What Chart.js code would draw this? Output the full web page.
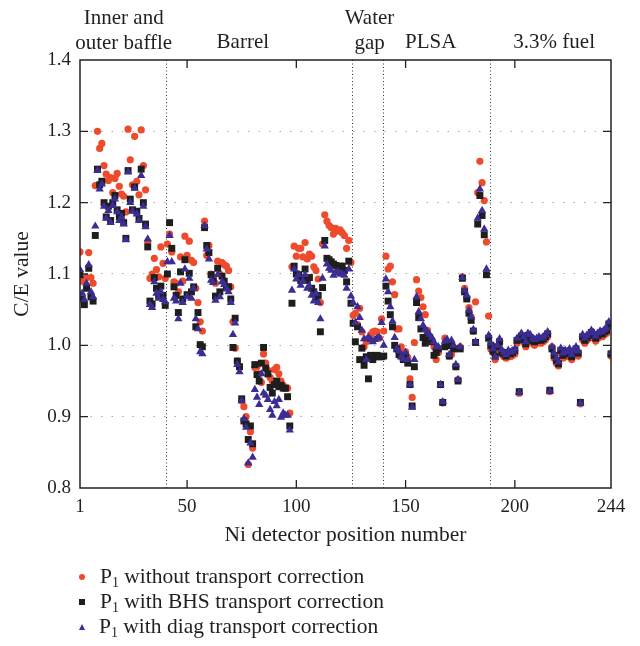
<!DOCTYPE html>
<html>
<head>
<meta charset="utf-8">
<title>C/E value by Ni detector position</title>
<script src="https://cdn.jsdelivr.net/npm/chart.js@4/dist/chart.umd.min.js"></script>
<style>
  body { margin: 0; background: #fff; }
  #wrap { position: relative; width: 640px; height: 646px; }
  #legend {
    position: absolute; left: 78px; top: 564px;
    font: 21.5px "Liberation Serif", "DejaVu Serif", serif; color: #231f20;
  }
  #legend .row { height: 25px; display: flex; align-items: center; white-space: nowrap; }
  #legend .mk { width: 6px; height: 6px; margin: 0 15px 0 1px; flex: none; }
  #legend .dot { background: #ee4a2c; border-radius: 50%; }
  #legend .sq { background: #1e1e1e; }
  #legend .tri { width: 0; height: 0; border-left: 3.5px solid transparent; border-right: 3.5px solid transparent; border-bottom: 6px solid #3a2d93; margin-right: 14px; }
  #legend sub { font-size: 14px; position: relative; top: 4px; vertical-align: baseline; line-height: 0; }
</style>
</head>
<body>
<div id="wrap">
  <canvas id="ceChart" width="640" height="646"></canvas>
  <div id="legend">
    <div class="row"><span class="mk dot"></span><span>P<sub>1</sub>&nbsp;without transport correction</span></div>
    <div class="row"><span class="mk sq"></span><span>P<sub>1</sub>&nbsp;with BHS transport correction</span></div>
    <div class="row"><span class="mk tri"></span><span>P<sub>1</sub>&nbsp;with diag transport correction</span></div>
  </div>
</div>
<script>
// C/E per Ni detector position (1..244), three transport treatments
const p1NoCorr = [
  1.131, 1.090, 1.090, 1.095, 1.130, 1.095, 1.087, 1.224, 1.300, 1.276,
  1.283, 1.252, 1.240, 1.231, 1.235, 1.214, 1.234, 1.241, 1.223, 1.212,
  1.209, 1.187, 1.303, 1.260, 1.225, 1.293, 1.230, 1.211, 1.302, 1.252,
  1.218, 1.145, 1.094, 1.100, 1.122, 1.106, 1.096, 1.138, 1.115, 1.094,
  1.142, 1.156, 1.131, 1.089, 1.087, 1.075, 1.124, 1.090, 1.153, 1.126,
  1.146, 1.119, 1.116, 1.080, 1.060, 1.033, 1.020, 1.174, 1.126, 1.140,
  1.100, 1.095, 1.087, 1.118, 1.100, 1.116, 1.113, 1.111, 1.105, 1.082,
  1.033, 0.996, 0.978, 0.970, 0.922, 0.914, 0.900, 0.833, 0.879, 0.856,
  0.969, 0.970, 0.960, 0.948, 0.988, 0.975, 0.965, 0.955, 0.950, 0.966,
  0.969, 0.960, 0.950, 0.944, 0.940, 0.940, 0.905, 1.110, 1.139, 1.125,
  1.136, 1.136, 1.124, 1.144, 1.121, 1.128, 1.125, 1.110, 1.105, 1.093,
  1.060, 1.142, 1.183, 1.174, 1.168, 1.165, 1.156, 1.164, 1.160, 1.162,
  1.158, 1.154, 1.136, 1.147, 1.116, 1.042, 1.045, 1.029, 1.052, 1.019,
  0.998, 1.005, 1.010, 1.015, 1.019, 1.020, 1.019, 1.010, 1.037, 1.020,
  1.125, 1.107, 1.111, 1.089, 1.071, 1.023, 1.023, 0.998, 0.990, 0.991,
  0.983, 0.953, 0.927, 1.004, 1.092, 1.076, 1.067, 1.054, 1.043, 1.021,
  1.010, 1.005, 0.998, 0.980, 0.990, 0.945, 0.919, 1.010, 1.000, 0.985,
  0.987, 0.995, 0.970, 0.952, 0.998, 1.096, 1.080, 1.066, 1.053, 1.040,
  1.020, 1.061, 1.214, 1.258, 1.228, 1.203, 1.145, 1.041, 0.995, 0.990,
  0.980, 0.995, 1.003, 0.987, 0.984, 0.982, 0.986, 0.984, 0.986, 0.988,
  1.003, 0.933, 1.010, 1.005, 0.998, 1.010, 1.007, 1.003, 1.000, 1.003,
  1.004, 1.003, 1.005, 1.008, 1.012, 0.935, 0.998, 0.982, 0.975, 0.971,
  0.989, 0.982, 0.986, 0.984, 0.988, 0.980, 0.986, 0.991, 0.985, 0.918,
  1.008, 1.003, 1.007, 1.010, 1.014, 1.011, 1.006, 1.010, 1.013, 1.012,
  1.015, 1.017, 1.026, 0.985
];

const p1Bhs = [
  1.099, 1.065, 1.057, 1.080, 1.108, 1.068, 1.062, 1.154, 1.247, 1.225,
  1.230, 1.200, 1.180, 1.195, 1.175, 1.200, 1.210, 1.190, 1.180, 1.185,
  1.172, 1.150, 1.245, 1.205, 1.190, 1.222, 1.188, 1.178, 1.247, 1.200,
  1.170, 1.138, 1.062, 1.058, 1.095, 1.080, 1.070, 1.083, 1.070, 1.056,
  1.100, 1.172, 1.136, 1.082, 1.070, 1.046, 1.103, 1.065, 1.120, 1.071,
  1.101, 1.075, 1.082, 1.026, 1.046, 1.001, 0.998, 1.165, 1.140, 1.130,
  1.099, 1.090, 1.069, 1.108, 1.075, 1.097, 1.090, 1.082, 1.082, 1.065,
  0.997, 1.038, 0.978, 0.970, 0.925, 0.894, 0.890, 0.868, 0.887, 0.862,
  0.973, 0.959, 0.950, 0.975, 0.997, 0.968, 0.960, 0.941, 0.933, 0.945,
  0.950, 0.942, 0.944, 0.940, 0.940, 0.928, 0.887, 1.059, 1.111, 1.100,
  1.099, 1.091, 1.095, 1.107, 1.091, 1.095, 1.080, 1.075, 1.067, 1.070,
  1.019, 1.081, 1.147, 1.122, 1.120, 1.117, 1.114, 1.112, 1.110, 1.111,
  1.111, 1.105, 1.089, 1.118, 1.059, 1.031, 1.005, 1.026, 0.980, 0.996,
  0.972, 0.984, 0.953, 0.986, 0.980, 0.984, 0.986, 0.984, 0.984, 0.985,
  1.083, 1.062, 1.043, 1.026, 1.000, 0.995, 0.987, 0.985, 0.980, 0.985,
  0.975, 0.945, 0.915, 0.970, 1.060, 1.039, 1.023, 1.011, 1.003, 1.010,
  1.011, 1.005, 0.986, 0.990, 0.995, 0.945, 0.920, 0.998, 1.000, 0.985,
  1.000, 0.995, 0.970, 0.950, 0.995, 1.094, 1.075, 1.065, 1.045, 1.035,
  1.020, 1.004, 1.170, 1.210, 1.182, 1.155, 1.099, 1.010, 1.000, 0.992,
  0.985, 0.998, 1.005, 0.990, 0.988, 0.985, 0.990, 0.988, 0.990, 0.993,
  1.007, 0.935, 1.013, 1.008, 1.002, 1.014, 1.011, 1.007, 1.005, 1.007,
  1.008, 1.007, 1.009, 1.012, 1.016, 0.937, 0.995, 0.986, 0.979, 0.974,
  0.993, 0.986, 0.990, 0.988, 0.992, 0.984, 0.990, 0.995, 0.989, 0.920,
  1.012, 1.007, 1.011, 1.014, 1.018, 1.015, 1.010, 1.014, 1.017, 1.016,
  1.019, 1.021, 1.030, 0.988
];

const p1Diag = [
  1.106, 1.073, 1.064, 1.087, 1.113, 1.075, 1.068, 1.167, 1.245, 1.219,
  1.226, 1.195, 1.178, 1.189, 1.172, 1.196, 1.205, 1.187, 1.175, 1.180,
  1.170, 1.148, 1.243, 1.200, 1.188, 1.220, 1.184, 1.175, 1.238, 1.195,
  1.166, 1.149, 1.057, 1.053, 1.089, 1.073, 1.066, 1.075, 1.064, 1.061,
  1.117, 1.154, 1.117, 1.066, 1.062, 1.037, 1.087, 1.060, 1.107, 1.068,
  1.094, 1.066, 1.080, 1.037, 1.023, 0.991, 0.988, 1.168, 1.135, 1.121,
  1.091, 1.088, 1.063, 1.099, 1.068, 1.089, 1.085, 1.079, 1.075, 1.060,
  1.015, 1.031, 0.973, 0.963, 0.922, 0.897, 0.885, 0.835, 0.863, 0.843,
  0.938, 0.927, 0.917, 0.960, 0.933, 0.930, 0.924, 0.910, 0.902, 0.921,
  0.915, 0.924, 0.899, 0.905, 0.902, 0.902, 0.881, 1.077, 1.107, 1.093,
  1.099, 1.084, 1.090, 1.099, 1.080, 1.083, 1.070, 1.062, 1.073, 1.060,
  1.037, 1.094, 1.139, 1.114, 1.108, 1.105, 1.098, 1.102, 1.103, 1.100,
  1.100, 1.098, 1.080, 1.107, 1.069, 1.060, 1.032, 1.054, 1.039, 1.021,
  1.009, 0.980, 1.011, 1.008, 1.005, 1.008, 1.010, 1.011, 1.032, 1.000,
  1.093, 1.075, 1.054, 1.034, 1.011, 0.995, 0.992, 0.984, 0.981, 0.990,
  0.980, 0.945, 0.913, 0.980, 1.068, 1.047, 1.037, 1.028, 1.022, 1.019,
  1.015, 1.011, 1.005, 0.998, 0.998, 0.945, 0.921, 1.006, 1.008, 0.987,
  1.007, 1.000, 0.973, 0.952, 0.998, 1.095, 1.077, 1.070, 1.049, 1.040,
  1.022, 1.005, 1.178, 1.219, 1.189, 1.163, 1.107, 1.014, 1.003, 0.995,
  0.984, 1.000, 1.009, 0.994, 0.990, 0.987, 0.993, 0.990, 0.992, 0.995,
  1.010, 0.934, 1.017, 1.012, 1.005, 1.017, 1.015, 1.010, 1.008, 1.010,
  1.012, 1.010, 1.012, 1.015, 1.019, 0.936, 0.998, 0.989, 0.982, 0.977,
  0.996, 0.989, 0.993, 0.991, 0.995, 0.987, 0.993, 0.998, 0.992, 0.919,
  1.015, 1.010, 1.014, 1.017, 1.021, 1.018, 1.013, 1.017, 1.020, 1.019,
  1.022, 1.024, 1.033, 0.990
];

const xTickValues = [1, 50, 100, 150, 200, 244];
const yTickValues = [0.8, 0.9, 1.0, 1.1, 1.2, 1.3, 1.4];

// Detector groups: boundaries between them and the group names above the plot
const zoneBounds = [40.5, 125.5, 139.5, 188.5];
const zoneNames = [["Inner and", "outer baffle"], ["Barrel"], ["Water", "gap"], ["PLSA"], ["3.3% fuel"]];
const zoneCenters = [21, 75.5, 133.5, 161.5, 218];

const SERIF = '"Liberation Serif", "DejaVu Serif", serif';
const INK = "#231f20";

const CeChart = {
  instance: null,

  toPoints: function (values) {
    return values.map(function (v, i) {
      return { x: i + 1, y: v };
    });
  },

  // Plot frame, inward tick marks, zone dividers and zone names
  decorations: {
    id: "decorations",
    beforeDatasetsDraw: function (chart) {
      const ctx = chart.ctx;
      const a = chart.chartArea;
      const x = chart.scales.x;
      ctx.save();
      ctx.strokeStyle = "#333";
      ctx.lineWidth = 1;
      ctx.setLineDash([1, 2.5]);
      zoneBounds.forEach(function (b) {
        const px = Math.round(x.getPixelForValue(b)) + 0.5;
        ctx.beginPath();
        ctx.moveTo(px, a.top);
        ctx.lineTo(px, a.bottom);
        ctx.stroke();
      });
      ctx.restore();
    },
    afterDraw: function (chart) {
      const ctx = chart.ctx;
      const a = chart.chartArea;
      const x = chart.scales.x;
      const y = chart.scales.y;
      ctx.save();
      ctx.strokeStyle = "#222";
      ctx.lineWidth = 1.3;

      // inward ticks on all four sides
      ctx.beginPath();
      yTickValues.slice(1, -1).forEach(function (v) {
        const py = y.getPixelForValue(v);
        ctx.moveTo(a.left, py); ctx.lineTo(a.left + 8, py);
        ctx.moveTo(a.right, py); ctx.lineTo(a.right - 8, py);
      });
      xTickValues.slice(1, -1).forEach(function (v) {
        const px = x.getPixelForValue(v);
        ctx.moveTo(px, a.bottom); ctx.lineTo(px, a.bottom - 8);
        ctx.moveTo(px, a.top); ctx.lineTo(px, a.top + 8);
      });
      ctx.stroke();

      ctx.lineWidth = 1.5;
      ctx.strokeRect(a.left, a.top, a.right - a.left, a.bottom - a.top);

      ctx.fillStyle = INK;
      ctx.font = "21px " + SERIF;
      ctx.textAlign = "center";
      ctx.textBaseline = "alphabetic";
      zoneNames.forEach(function (lines, k) {
        const px = x.getPixelForValue(zoneCenters[k]);
        if (lines.length === 2) {
          ctx.fillText(lines[0], px, 23.5);
          ctx.fillText(lines[1], px, 48.5);
        } else {
          ctx.fillText(lines[0], px, 47.5);
        }
      });
      ctx.restore();
    },
  },

  init: function () {
    const self = this;
    const ctx = document.getElementById("ceChart");

    this.instance = new Chart(ctx, {
      type: "scatter",
      data: {
        datasets: [
          {
            label: "P1 without transport correction",
            data: self.toPoints(p1NoCorr),
            pointStyle: "circle",
            pointRadius: 3.6,
            backgroundColor: "#ee4a2c",
            borderWidth: 0,
            order: 3,
          },
          {
            label: "P1 with BHS transport correction",
            data: self.toPoints(p1Bhs),
            pointStyle: "rect",
            pointRadius: 4.9,
            backgroundColor: "#1e1e1e",
            borderWidth: 0,
            order: 2,
          },
          {
            label: "P1 with diag transport correction",
            data: self.toPoints(p1Diag),
            pointStyle: "triangle",
            pointRadius: 4.8,
            backgroundColor: "#3a2d93",
            borderWidth: 0,
            order: 1,
          },
        ],
      },
      options: {
        responsive: false,
        animation: false,
        events: [],
        layout: { padding: { top: 60, right: 29, bottom: 98, left: 0 } },
        plugins: {
          legend: { display: false },
          tooltip: { enabled: false },
        },
        scales: {
          x: {
            type: "linear",
            min: 1,
            max: 244,
            afterBuildTicks: function (scale) {
              scale.ticks = xTickValues.map(function (v) { return { value: v }; });
            },
            afterFit: function (scale) { scale.height = 60; },
            ticks: {
              autoSkip: false,
              maxRotation: 0,
              padding: 8,
              color: INK,
              font: { family: SERIF, size: 19 },
            },
            grid: { display: false, drawTicks: false },
            border: { display: false },
            title: {
              display: true,
              text: "Ni detector position number",
              color: INK,
              font: { family: SERIF, size: 21.5 },
              padding: { top: 0, bottom: 0 },
            },
          },
          y: {
            min: 0.8,
            max: 1.4,
            afterBuildTicks: function (scale) {
              scale.ticks = yTickValues.map(function (v) { return { value: v }; });
            },
            afterFit: function (scale) { scale.width = 80; },
            ticks: {
              padding: 9,
              color: INK,
              font: { family: SERIF, size: 19 },
              callback: function (v) { return Number(v).toFixed(1); },
            },
            grid: {
              drawTicks: false,
              lineWidth: 1,
              color: function (c) {
                const v = c.tick ? c.tick.value : 0;
                return v < 0.85 || v > 1.35 ? "rgba(0,0,0,0)" : "#a8a8a8";
              },
            },
            border: { display: false, dash: [1.5, 9] },
            title: {
              display: true,
              text: "C/E value",
              color: INK,
              font: { family: SERIF, size: 21.5 },
              padding: { top: 9, bottom: 0 },
            },
          },
        },
      },
      plugins: [self.decorations],
    });
  },
};

CeChart.init();
</script>
</body>
</html>
